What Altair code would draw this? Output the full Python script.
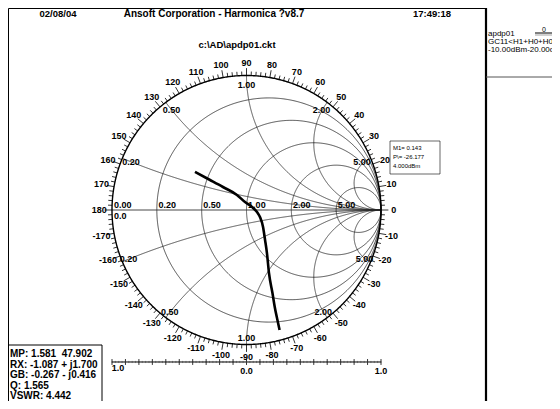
import altair as alt
import numpy as np
import pandas as pd

# ---------------- text content ----------------
date_text = "02/08/04"
title_text = "Ansoft Corporation - Harmonica ?v8.7"
time_text = "17:49:18"
file_text = "c:\\AD\\apdp01.ckt"
legend_name = "apdp01"
legend_lines = ["GC11<H1+H0+H0", "-10.00dBm-20.00dBm"]
marker_lines = ["M1= 0.143", "P\\= -26.177", "4.000dBm"]
readout_lines = ["MP: 1.581\u00a0\u00a047.902", "RX: -1.087 + j1.700", "GB: -0.267 - j0.416",
                 "Q: 1.565", "VSWR: 4.442"]

# ---------------- Smith grid values ----------------
r_values = [0.2, 0.5, 1.0, 2.0, 5.0]
x_values = [0.2, 0.5, 1.0, 2.0, 5.0]
grid_labels = ["0.20", "0.50", "1.00", "2.00", "5.00"]
angle_values = list(range(-170, 190, 10))
bar_ticks = [-1.0, -0.9, -0.8, -0.7, -0.6, -0.5, -0.4, -0.3, -0.2, -0.1, 0.0,
             0.1, 0.2, 0.3, 0.4, 0.5, 0.6, 0.7, 0.8, 0.9, 1.0]
bar_labels = ["1.0", "0.0", "1.0"]

# ---------------- trace (reflection coefficient) ----------------
trace_re = [-0.383, -0.271, -0.175, -0.071, -0.011, 0.041, 0.078, 0.100, 0.123,
            0.138, 0.152, 0.167, 0.193, 0.210, 0.230, 0.246]
trace_im = [0.283, 0.223, 0.171, 0.112, 0.059, 0.022, -0.015, -0.052, -0.126,
            -0.223, -0.320, -0.468, -0.617, -0.721, -0.818, -0.892]

# ---------------- layout ----------------
W, H = 544, 393
CX, CY, R = 238.5, 202.0, 134.5
FONT = "Liberation Sans"
xs = alt.Scale(domain=[-CX / R, (W - CX) / R], nice=False, zero=False)
ys = alt.Scale(domain=[-(H - CY) / R, CY / R], nice=False, zero=False)
X = lambda f: alt.X(f, type="quantitative", scale=xs, axis=None)
Y = lambda f: alt.Y(f, type="quantitative", scale=ys, axis=None)

# grid geometry
rows = []
gid = 0
t = np.linspace(-np.pi / 2 + 1e-3, np.pi / 2 - 1e-3, 801)
for r in r_values:
    z = r + 1j * np.tan(t)
    g = (z - 1) / (z + 1)
    for k, v in enumerate(g):
        rows.append((gid, k, v.real, v.imag))
    gid += 1
s = np.linspace(0, np.pi / 2 - 1e-3, 601)
for xv in x_values:
    for sign in (1, -1):
        z = np.tan(s) + 1j * sign * xv
        g = (z - 1) / (z + 1)
        for k, v in enumerate(g):
            rows.append((gid, k, v.real, v.imag))
        gid += 1
grid_df = pd.DataFrame(rows, columns=["id", "k", "gx", "gy"])

th = np.linspace(0, 2 * np.pi, 721)
outer_df = pd.DataFrame({"k": np.arange(len(th)), "gx": np.cos(th), "gy": np.sin(th)})

grid = alt.Chart(grid_df).mark_line(color="#1a1a1a", strokeWidth=0.75).encode(
    x=X("gx"), y=Y("gy"), detail="id:N", order="k:Q")
outer = alt.Chart(outer_df).mark_line(color="black", strokeWidth=1.4).encode(
    x=X("gx"), y=Y("gy"), order="k:Q")
axis_df = pd.DataFrame({"gx": [-1.0], "gx2": [1.0], "gy": [0.0]})
axis_line = alt.Chart(axis_df).mark_rule(color="#333", strokeWidth=0.9).encode(
    x=X("gx"), x2="gx2", y=Y("gy"))

# ring ticks
ta = np.arange(-178, 181, 2)
tick_df = pd.DataFrame({
    "a": ta,
    "gx": np.cos(np.radians(ta)), "gy": np.sin(np.radians(ta)),
    "gx2": np.where(ta % 10 == 0, 1.055, 1.03) * np.cos(np.radians(ta)),
    "gy2": np.where(ta % 10 == 0, 1.055, 1.03) * np.sin(np.radians(ta)),
})
ring_ticks = alt.Chart(tick_df).mark_rule(color="black", strokeWidth=0.8).encode(
    x=X("gx"), y=Y("gy"), x2="gx2", y2="gy2")

ang = np.radians(angle_values)
ang_df = pd.DataFrame({"t": [str(a) for a in angle_values],
                       "gx": 1.095 * np.cos(ang), "gy": 1.095 * np.sin(ang)})
ang_labels = alt.Chart(ang_df).mark_text(font=FONT, fontSize=9, fontWeight="bold",
                                         baseline="middle", align="center").encode(
    x=X("gx"), y=Y("gy"), text="t")

# resistance labels on the real axis
rg = [(r - 1) / (r + 1) for r in r_values]
rl_df = pd.DataFrame({"t": grid_labels, "gx": [v + 0.012 for v in rg], "gy": [0.04] * 5})
r_labels = alt.Chart(rl_df).mark_text(font=FONT, fontSize=9, fontWeight="bold",
                                      baseline="middle", align="left").encode(
    x=X("gx"), y=Y("gy"), text="t")
zero_df = pd.DataFrame({"t": ["0.00", "0.0"], "gx": [-0.985, -0.985], "gy": [0.038, -0.045]})
zero_labels = alt.Chart(zero_df).mark_text(font=FONT, fontSize=9, fontWeight="bold",
                                           baseline="middle", align="left").encode(
    x=X("gx"), y=Y("gy"), text="t")

# reactance labels near the rim
xl_rows = []
for lab, xv in zip(grid_labels, x_values):
    e = np.pi - 2 * np.arctan(xv)
    xl_rows.append((lab, 0.93 * np.cos(e), 0.93 * np.sin(e)))
    xl_rows.append((lab, 0.95 * np.cos(-e), 0.95 * np.sin(-e)))
xl_df = pd.DataFrame(xl_rows, columns=["t", "gx", "gy"])
x_labels = alt.Chart(xl_df).mark_text(font=FONT, fontSize=9, fontWeight="bold",
                                      baseline="middle", align="center").encode(
    x=X("gx"), y=Y("gy"), text="t")

# trace
trace_df = pd.DataFrame({"k": range(len(trace_re)), "gx": trace_re, "gy": trace_im})
trace = alt.Chart(trace_df).mark_line(color="black", strokeWidth=2.6,
                                      interpolate="monotone").encode(
    x=X("gx"), y=Y("gy"), order="k:Q")

# bottom scale bar
BY = -1.13
bar_df = pd.DataFrame({"gx": [-1.0], "gx2": [1.0], "gy": [BY]})
bar = alt.Chart(bar_df).mark_rule(color="black", strokeWidth=1).encode(
    x=X("gx"), x2="gx2", y=Y("gy"))
bt_df = pd.DataFrame({"gx": bar_ticks, "gy": [BY + 0.022] * len(bar_ticks),
                      "gy2": [BY - 0.022] * len(bar_ticks)})
bar_tk = alt.Chart(bt_df).mark_rule(color="black", strokeWidth=0.8).encode(
    x=X("gx"), y=Y("gy"), y2="gy2")
mt = np.arange(-1.0, 1.0001, 0.025)
mt_df = pd.DataFrame({"gx": mt, "gy": BY + 0.008, "gy2": BY - 0.008})
bar_mt = alt.Chart(mt_df).mark_rule(color="#444", strokeWidth=0.6).encode(
    x=X("gx"), y=Y("gy"), y2="gy2")
bl_df = pd.DataFrame({"t": bar_labels, "gx": [-0.955, 0.0, 1.0], "gy": [BY - 0.045, BY - 0.07, BY - 0.07]})
bar_lb = alt.Chart(bl_df).mark_text(font=FONT, fontSize=9, fontWeight="bold",
                                    baseline="middle", align="center").encode(
    x=X("gx"), y=Y("gy"), text="t")


def txt(s, x, y, size=9.5, weight="bold", align="center"):
    return alt.Chart(pd.DataFrame({"t": [s]})).mark_text(
        font=FONT, fontSize=size, fontWeight=weight, align=align, baseline="middle",
        color="black").encode(x=alt.value(x), y=alt.value(y), text="t")


def rule(x1, x2, y1, y2, w=1.0, color="black"):
    return alt.Chart(pd.DataFrame({"d": [0]})).mark_rule(color=color, strokeWidth=w).encode(
        x=alt.value(x1), x2=alt.value(x2), y=alt.value(y1), y2=alt.value(y2))


annos = [
    txt(date_text, 50, 6), txt(title_text, 206, 6, size=10), txt(time_text, 424, 6),
    txt(file_text, 229, 37),
    txt(legend_name, 480, 26, size=8, weight="normal", align="left"),
    txt(legend_lines[0], 480, 34, size=8, weight="normal", align="left"),
    txt(legend_lines[1], 480, 42, size=8, weight="normal", align="left"),
    txt("0", 536, 22, size=7, weight="normal"),
    rule(527, 544, 25, 25, 1),
    rule(527, 544, 27, 27, 0.6, "#666"),
]
for i, line in enumerate(marker_lines):
    annos.append(txt(line, 385, 140 + 9 * i, size=6, weight="normal", align="left"))
for i, line in enumerate(readout_lines):
    annos.append(txt(line, 2, 346 + 10.5 * i, size=10, weight="bold", align="left"))

frames = [
    rule(0.5, 478, 0.5, 0.5, 1),
    rule(0.5, 0.5, 0.5, H, 1),
    rule(478, 478, 0, H, 2.2),
    rule(478, W, 69, 69, 1, "#555"),
    rule(0.5, 94, 337, 337, 1),
    rule(94, 94, 337, H, 1),
    rule(382, 432, 133, 133, 0.6),
    rule(382, 432, 166, 166, 0.6),
    rule(382, 382, 133, 166, 0.6),
    rule(432, 432, 133, 166, 0.6),
]

chart = alt.layer(
    grid, axis_line, outer, ring_ticks, ang_labels, r_labels, zero_labels, x_labels,
    trace, bar, bar_tk, bar_mt, bar_lb, *annos, *frames
).properties(
    width=W, height=H, padding=0, autosize=alt.AutoSizeParams(type="none"),
    background="white"
).configure_view(stroke=None)

chart.save("out.html", embed_options={"renderer": "svg", "actions": False})
